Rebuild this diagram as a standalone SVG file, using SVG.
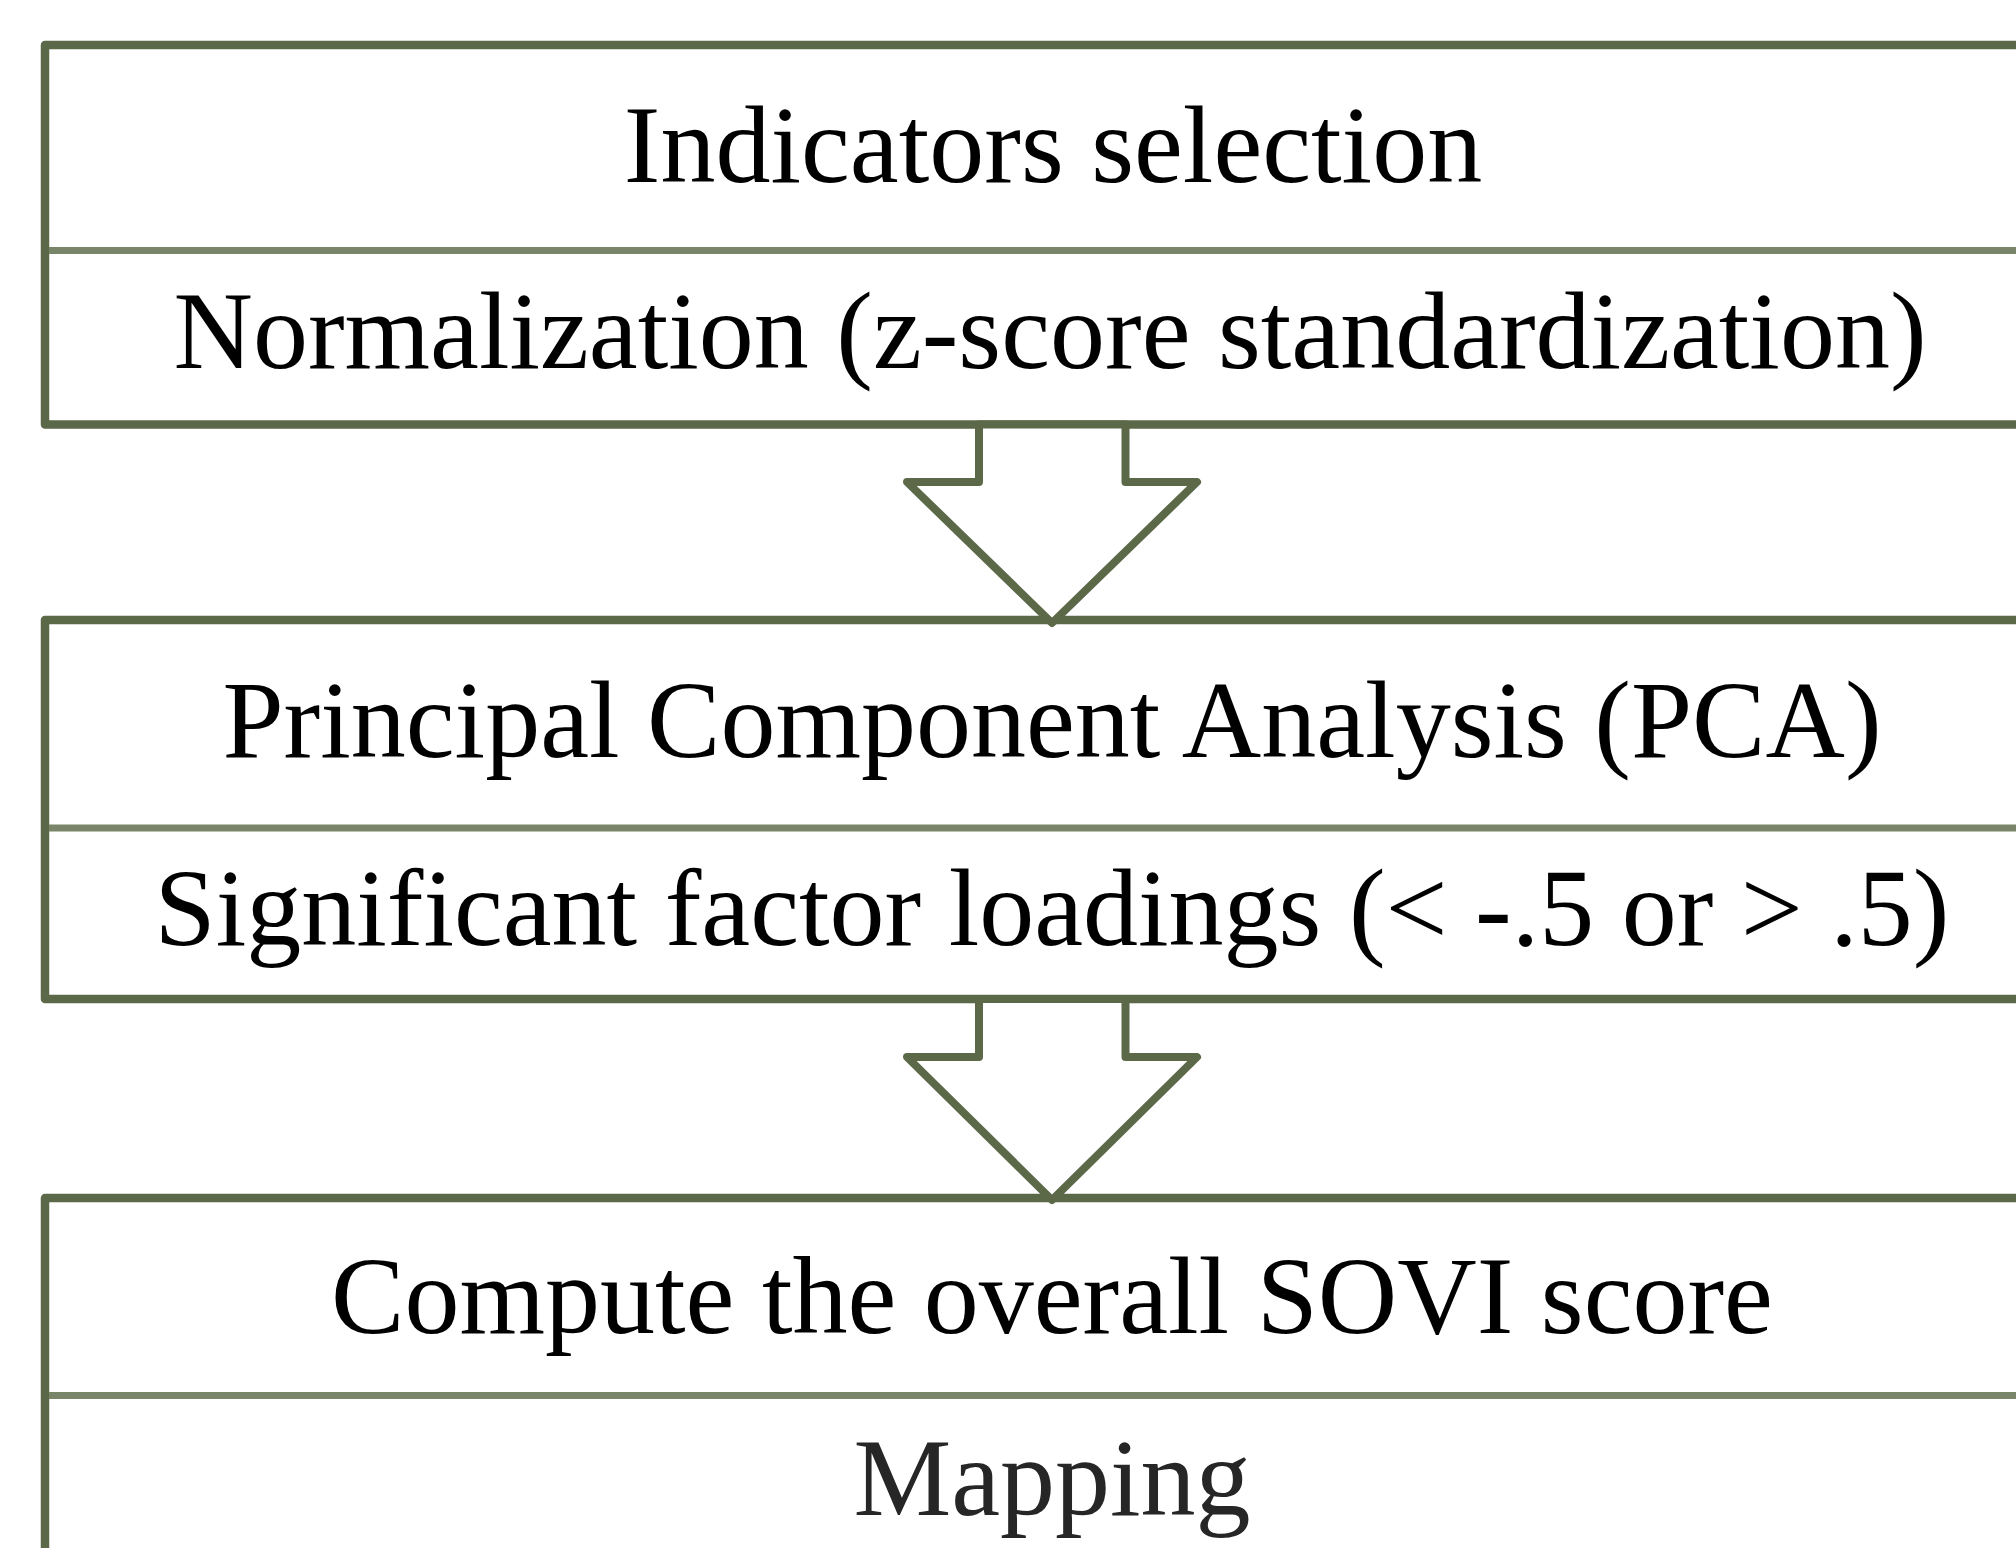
<svg xmlns="http://www.w3.org/2000/svg" width="2016" height="1548" viewBox="0 0 2016 1548">
<style>
.box{fill:#ffffff;stroke:#5b6949;stroke-width:8.5;stroke-linejoin:round}
.div{stroke:#788569;stroke-width:7}
.arrow{fill:#ffffff;stroke:#5b6949;stroke-width:8;stroke-linejoin:round}
.t{font-family:"Liberation Serif","Times New Roman",serif;font-size:110px;fill:#000;text-anchor:middle}
</style>
<rect width="2016" height="1548" fill="#ffffff"/>
<g id="node-step1">
<rect class="box" x="45" y="45" width="2010" height="379.5"/>
<line class="div" x1="49" y1="250.5" x2="2030" y2="250.5"/>
<text class="t" x="1053" y="182">Indicators selection</text>
<text class="t" x="1050" y="368">Normalization (z-score standardization)</text>
</g>
<g id="node-step2">
<rect class="box" x="45" y="620" width="2010" height="379"/>
<line class="div" x1="49" y1="828" x2="2030" y2="828"/>
<text class="t" x="1052" y="757">Principal Component Analysis (PCA)</text>
<text class="t" x="1052" y="945">Significant factor loadings (&lt; -.5 or &gt; .5)</text>
</g>
<g id="node-step3">
<rect class="box" x="45" y="1198" width="2010" height="420"/>
<line class="div" x1="49" y1="1395.5" x2="2030" y2="1395.5"/>
<text class="t" x="1052" y="1333">Compute the overall SOVI score</text>
<text class="t" x="1052" y="1515" style="fill:#262626">Mapping</text>
</g>
<g id="connectors">
<polygon class="arrow" points="979,424.5 979,482 907,482 1052,623 1197,482 1125.5,482 1125.5,424.5"/>
<polygon class="arrow" points="979,999 979,1057 907,1057 1052,1200 1197,1057 1125.5,1057 1125.5,999"/>
</g>
</svg>
